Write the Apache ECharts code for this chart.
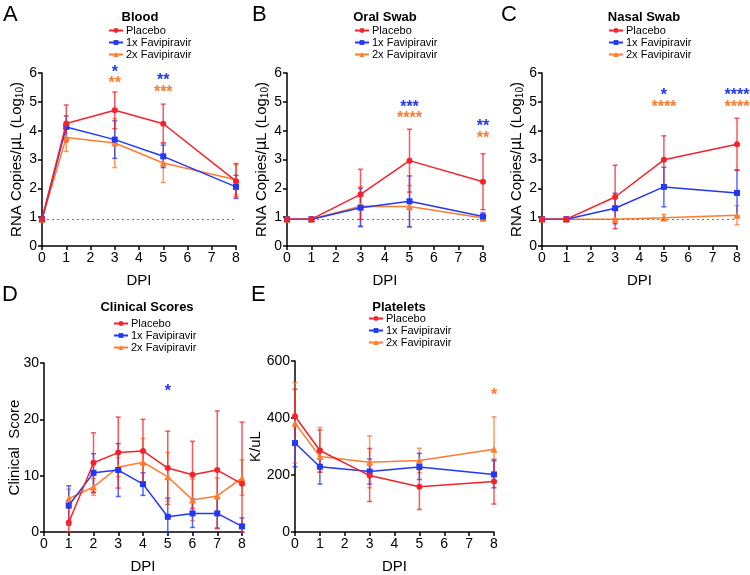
<!DOCTYPE html>
<html><head><meta charset="utf-8">
<script src="https://cdn.jsdelivr.net/npm/echarts@6/dist/echarts.min.js"></script>
<style>html,body{margin:0;padding:0;background:#fff}#c{width:750px;height:575px}</style>
</head><body><div id="c"></div>
<script>
// ---------- data ----------
const seriesNames = ['Placebo', '1x Favipiravir', '2x Favipiravir'];
const dpiViral = [0, 1, 3, 5, 8];
const dpiClinical = [1, 2, 3, 4, 5, 6, 7, 8];
const detectionLimit = 0.93;

// Blood
const bloodPlacebo = [0.93, 4.25, 4.71, 4.24, 2.25];
const bloodPlaceboLo = [0.93, 3.61, 4.07, 3.58, 1.70];
const bloodPlaceboHi = [0.93, 4.89, 5.34, 4.92, 2.86];
const blood1x = [0.93, 4.13, 3.69, 3.11, 2.05];
const blood1xLo = [0.93, 3.75, 3.04, 2.72, 1.65];
const blood1xHi = [0.93, 4.51, 4.34, 3.50, 2.45];
const blood2x = [0.93, 3.76, 3.57, 2.88, 2.30];
const blood2xLo = [0.93, 3.28, 2.72, 2.20, 1.78];
const blood2xHi = [0.93, 4.24, 4.42, 3.56, 2.82];

// Oral swab
const oralPlacebo = [0.93, 0.93, 1.79, 2.96, 2.23];
const oralPlaceboLo = [0.93, 0.93, 0.92, 1.87, 1.26];
const oralPlaceboHi = [0.93, 0.93, 2.66, 4.05, 3.20];
const oral1x = [0.93, 0.93, 1.33, 1.55, 1.02];
const oral1xLo = [0.93, 0.93, 0.67, 0.67, 0.88];
const oral1xHi = [0.93, 0.93, 2.00, 2.43, 1.15];
const oral2x = [0.93, 0.93, 1.38, 1.37, 0.97];
const oral2xLo = [0.93, 0.93, 0.70, 0.65, 0.88];
const oral2xHi = [0.93, 0.93, 2.05, 2.10, 1.05];

// Nasal swab
const nasalPlacebo = [0.93, 0.93, 1.70, 2.99, 3.53];
const nasalPlaceboLo = [0.93, 0.93, 0.60, 2.12, 2.62];
const nasalPlaceboHi = [0.93, 0.93, 2.80, 3.82, 4.43];
const nasal1x = [0.93, 0.93, 1.31, 2.05, 1.84];
const nasal1xLo = [0.93, 0.93, 0.77, 1.36, 1.04];
const nasal1xHi = [0.93, 0.93, 1.83, 2.73, 2.64];
const nasal2x = [0.93, 0.93, 0.93, 0.98, 1.07];
const nasal2xLo = [0.93, 0.93, 0.93, 0.87, 0.74];
const nasal2xHi = [0.93, 0.93, 0.93, 1.10, 1.40];

// Clinical scores
const clinPlacebo = [1.7, 12.3, 14.1, 14.4, 11.35, 10.15, 11.0, 8.55];
const clinPlaceboLo = [0, 7.0, 7.8, 8.8, 4.9, 4.2, 0.6, 0];
const clinPlaceboHi = [5.6, 17.6, 20.4, 20.0, 17.9, 16.1, 21.5, 19.5];
const clin1x = [4.7, 10.5, 11.0, 8.5, 2.7, 3.3, 3.3, 1.0];
const clin1xLo = [1.2, 7.0, 6.3, 6.5, 0, 0.8, 0.7, 0];
const clin1xHi = [8.2, 13.9, 15.7, 10.5, 6.0, 5.9, 6.0, 2.5];
const clin2x = [5.9, 8.0, 11.5, 12.4, 9.8, 5.7, 6.4, 9.6];
const clin2xLo = [4.2, 6.5, 9.8, 8.3, 5.5, 2.0, 3.1, 6.5];
const clin2xHi = [7.6, 9.5, 13.2, 16.6, 14.1, 9.4, 9.6, 12.8];

// Platelets
const pltPlacebo = [406, 286, 198, 159, 177];
const pltPlaceboLo = [308, 210, 107, 79, 98];
const pltPlaceboHi = [501, 358, 293, 240, 255];
const plt1x = [312, 229, 212, 228, 202];
const plt1xLo = [229, 168, 168, 184, 155];
const plt1xHi = [399, 290, 256, 276, 250];
const plt2x = [382, 265, 245, 251, 290];
const plt2xLo = [242, 210, 155, 208, 176];
const plt2xHi = [524, 367, 337, 294, 404];

// significance marks: [x, y, text]
const starsBlood1x = [[3, 6.12, '*'], [5, 5.83, '**']];
const starsBlood2x = [[3, 5.72, '**'], [5, 5.42, '***']];
const starsOral1x = [[5, 4.92, '***'], [8, 4.23, '**']];
const starsOral2x = [[5, 4.51, '****'], [8, 3.84, '**']];
const starsNasal1x = [[5, 5.32, '*'], [8, 5.32, '****']];
const starsNasal2x = [[5, 4.91, '****'], [8, 4.91, '****']];
const starsClin1x = [[5, 25.5, '*']];
const starsPlt2x = [[8, 490, '*']];

const panelTitles = ['Blood', 'Oral Swab', 'Nasal Swab', 'Clinical Scores', 'Platelets'];
const panelLetters = ['A', 'B', 'C', 'D', 'E'];

// ---------- styling / layout ----------
const FONT = 'Liberation Sans, Arial, Helvetica, sans-serif';
const colors = ['#f5222a', '#2238f5', '#ff7b2e'];
const symbols = ['circle', 'rect', 'triangle'];

const grids = [
  {left: 42, top: 73, width: 194, height: 173},
  {left: 287, top: 73, width: 196, height: 173},
  {left: 542, top: 73, width: 195, height: 173},
  {left: 44, top: 363, width: 198, height: 175},
  {left: 295, top: 361, width: 199, height: 176}
];
const titlePos = [[135, 6], [380, 6], [639, 6], [142, 296], [394, 296]];
const legendPos = [[108, 25], [354, 25], [608, 25], [113, 318], [368, 313]];
const letterPos = [[3, 4], [252, 4], [501, 4], [2, 284], [251, 284]];

const yCfg = [
  {min: 0, max: 6, interval: 1, name: 'RNA Copies/{g|μ}L (Log{s|10})', gap: 17},
  {min: 0, max: 6, interval: 1, name: 'RNA Copies/{g|μ}L (Log{s|10})', gap: 17},
  {min: 0, max: 6, interval: 1, name: 'RNA Copies/{g|μ}L (Log{s|10})', gap: 17},
  {min: 0, max: 30, interval: 10, name: 'Clinical  Score', gap: 22},
  {min: 0, max: 600, interval: 200, name: 'K/uL', gap: 32}
];

const axisLine = {lineStyle: {color: '#000', width: 1.5}};
const axisTick = {show: true, length: 4, lineStyle: {color: '#000', width: 1.5}};

const xAxes = grids.map((g, i) => ({
  type: 'value', gridIndex: i, min: 0, max: 8, interval: 1,
  name: 'DPI', nameLocation: 'middle', nameGap: 27, nameMoveOverlap: false,
  nameTextStyle: {fontSize: 15, color: '#000', fontFamily: FONT},
  axisLine: axisLine, axisTick: axisTick,
  axisLabel: {fontSize: 14, color: '#000', margin: 5, fontFamily: FONT},
  splitLine: {show: false}
}));
const yAxes = grids.map((g, i) => ({
  type: 'value', gridIndex: i, min: yCfg[i].min, max: yCfg[i].max, interval: yCfg[i].interval,
  name: yCfg[i].name, nameLocation: 'middle', nameGap: yCfg[i].gap, nameRotate: 90,
  nameMoveOverlap: false,
  nameTextStyle: {fontSize: 15, color: '#000', fontFamily: FONT,
    rich: {
      s: {fontSize: 10, color: '#000', fontFamily: FONT, verticalAlign: 'bottom', padding: [6, 0, 0, 0]},
      g: {fontSize: 15, color: '#000', fontFamily: 'DejaVu Sans, ' + FONT}
    }},
  axisLine: Object.assign({onZero: false}, axisLine), axisTick: axisTick,
  axisLabel: {fontSize: 14, color: '#000', margin: 5, fontFamily: FONT},
  splitLine: {show: false}
}));

function lineSeries(pi, k, xs, ys, withLimit) {
  const s = {
    type: 'line', name: seriesNames[k], xAxisIndex: pi, yAxisIndex: pi,
    data: xs.map((x, i) => [x, ys[i]]),
    symbol: symbols[k], symbolSize: k === 2 ? 7 : 6,
    lineStyle: {color: colors[k], width: 1.5},
    itemStyle: {color: colors[k]},
    z: 3 + (2 - k), animation: false
  };
  if (withLimit) {
    s.markLine = {
      silent: true, symbol: 'none', label: {show: false},
      lineStyle: {color: '#777', type: [2, 3], width: 1},
      data: [[{coord: [0, detectionLimit]}, {coord: [8, detectionLimit]}]]
    };
  }
  return s;
}
function errSeries(pi, k, xs, lo, hi) {
  return {
    type: 'custom', xAxisIndex: pi, yAxisIndex: pi, silent: true, animation: false,
    data: xs.map((x, i) => [x, lo[i], hi[i]]),
    z: 2,
    renderItem: function (params, api) {
      const x = api.value(0);
      const p1 = api.coord([x, api.value(1)]);
      const p2 = api.coord([x, api.value(2)]);
      const w = 2.5;
      const st = {stroke: colors[k], lineWidth: 1.5, opacity: 0.75};
      return {type: 'group', children: [
        {type: 'line', shape: {x1: p1[0], y1: p1[1], x2: p2[0], y2: p2[1]}, style: st},
        {type: 'line', shape: {x1: p1[0] - w, y1: p1[1], x2: p1[0] + w, y2: p1[1]}, style: st},
        {type: 'line', shape: {x1: p2[0] - w, y1: p2[1], x2: p2[0] + w, y2: p2[1]}, style: st}
      ]};
    }
  };
}
function starSeries(pi, k, pts) {
  return {
    type: 'custom', xAxisIndex: pi, yAxisIndex: pi, silent: true, animation: false,
    data: pts, clip: false, z: 10,
    renderItem: function (params, api) {
      const p = api.coord([api.value(0), api.value(1)]);
      return {type: 'text', x: p[0], y: p[1] + 3,
        style: {text: pts[params.dataIndex][2], fill: colors[k], fontSize: 16, fontWeight: 'bold',
          fontFamily: FONT, align: 'center', verticalAlign: 'middle'}};
    }
  };
}

const panels = [
  {xs: dpiViral, m: [bloodPlacebo, blood1x, blood2x], lo: [bloodPlaceboLo, blood1xLo, blood2xLo], hi: [bloodPlaceboHi, blood1xHi, blood2xHi], stars: [null, starsBlood1x, starsBlood2x], lim: true},
  {xs: dpiViral, m: [oralPlacebo, oral1x, oral2x], lo: [oralPlaceboLo, oral1xLo, oral2xLo], hi: [oralPlaceboHi, oral1xHi, oral2xHi], stars: [null, starsOral1x, starsOral2x], lim: true},
  {xs: dpiViral, m: [nasalPlacebo, nasal1x, nasal2x], lo: [nasalPlaceboLo, nasal1xLo, nasal2xLo], hi: [nasalPlaceboHi, nasal1xHi, nasal2xHi], stars: [null, starsNasal1x, starsNasal2x], lim: true},
  {xs: dpiClinical, m: [clinPlacebo, clin1x, clin2x], lo: [clinPlaceboLo, clin1xLo, clin2xLo], hi: [clinPlaceboHi, clin1xHi, clin2xHi], stars: [null, starsClin1x, null], lim: false},
  {xs: dpiViral, m: [pltPlacebo, plt1x, plt2x], lo: [pltPlaceboLo, plt1xLo, plt2xLo], hi: [pltPlaceboHi, plt1xHi, plt2xHi], stars: [null, null, starsPlt2x], lim: false}
];

const series = [];
panels.forEach((p, pi) => {
  for (let k = 2; k >= 0; k--) {
    series.push(errSeries(pi, k, p.xs, p.lo[k], p.hi[k]));
  }
  for (let k = 2; k >= 0; k--) {
    series.push(lineSeries(pi, k, p.xs, p.m[k], p.lim && k === 0));
  }
  p.stars.forEach((st, k) => { if (st) series.push(starSeries(pi, k, st)); });
});

const option = {
  backgroundColor: '#fff',
  animation: false,
  textStyle: {fontFamily: FONT},
  grid: grids,
  xAxis: xAxes,
  yAxis: yAxes,
  title: panelTitles.map((t, i) => ({
    text: t, left: titlePos[i][0], top: titlePos[i][1], textAlign: 'center',
    textStyle: {fontSize: 13, fontWeight: 'bold', color: '#000', fontFamily: FONT}
  })),
  legend: legendPos.map(p => ({
    data: seriesNames, orient: 'vertical', left: p[0], top: p[1],
    itemWidth: 14, itemHeight: 6, itemGap: 1, padding: 0, selectedMode: false,
    textStyle: {fontSize: 11, color: '#000', fontFamily: FONT, lineHeight: 11, padding: [0, 0, 0, -2]}
  })),
  graphic: panelLetters.map((l, i) => ({
    type: 'text', left: letterPos[i][0], top: letterPos[i][1],
    style: {text: l, fontSize: 22, fill: '#000', fontFamily: FONT}
  })),
  series: series
};

const chart = echarts.init(document.getElementById('c'), null, {renderer: 'canvas'});
chart.setOption(option);
</script>
</body></html>
